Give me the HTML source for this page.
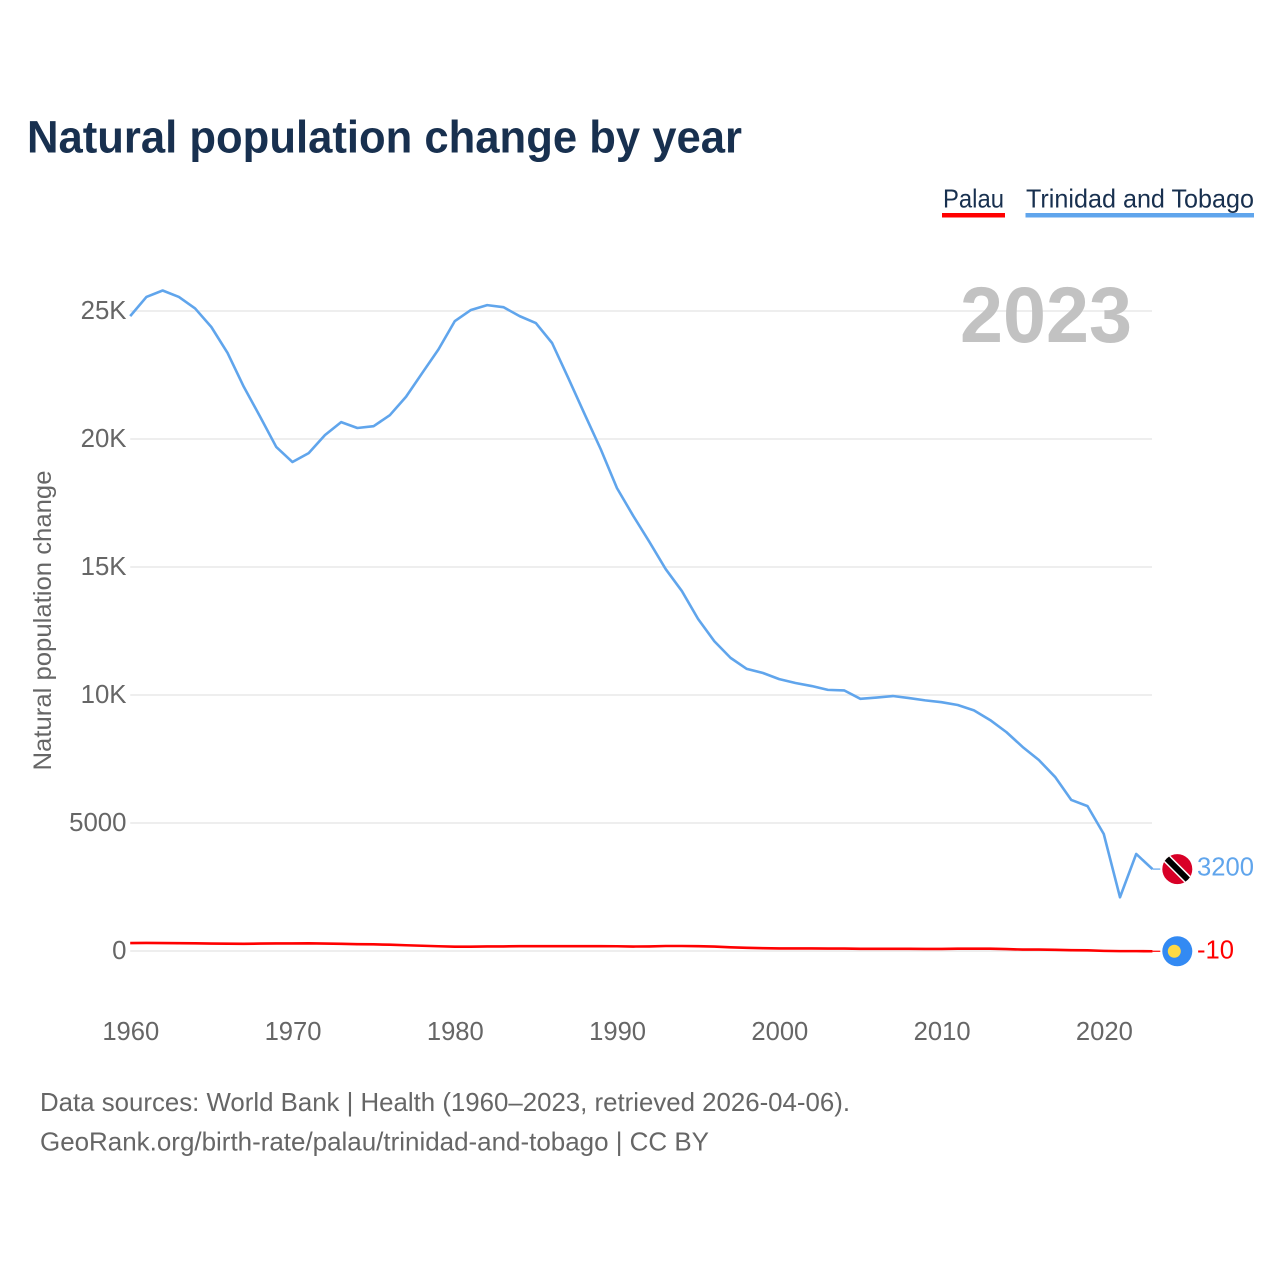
<!DOCTYPE html>
<html lang="en">
<head>
<meta charset="utf-8">
<title>Natural population change by year</title>
<style>
html,body{margin:0;padding:0;background:#fff;}
svg{display:block;font-family:"Liberation Sans",sans-serif;}
</style>
</head>
<body>
<svg id="chart" xmlns="http://www.w3.org/2000/svg" width="1280" height="1280" viewBox="0 0 1280 1280">
  <rect x="0" y="0" width="1280" height="1280" fill="#ffffff"/>
  <text x="27" y="152.5" font-size="45" font-weight="700" fill="#18304f" textLength="715" lengthAdjust="spacingAndGlyphs">Natural population change by year</text>
  <g>
    <g>
      <text x="943" y="207.5" font-size="26" fill="#18304f" textLength="61" lengthAdjust="spacingAndGlyphs">Palau</text>
      <rect x="942" y="213" width="63" height="4.5" fill="#ff0000"/>
    </g>
    <g>
      <text x="1026" y="207.5" font-size="26" fill="#18304f" textLength="228" lengthAdjust="spacingAndGlyphs">Trinidad and Tobago</text>
      <rect x="1025.5" y="213" width="228.5" height="4.5" fill="#60a5ec"/>
    </g>
  </g>
  <text transform="translate(51,620.5) rotate(-90)" text-anchor="middle" font-size="25" fill="#666666" textLength="300" lengthAdjust="spacingAndGlyphs">Natural population change</text>
  <g id="grid"></g>
  <g id="yticks"></g>
  <g id="xticks"></g>
  <text id="year" x="1132" y="342" text-anchor="end" font-size="79" font-weight="700" fill="#c2c2c2" textLength="172" lengthAdjust="spacingAndGlyphs">2023</text>
  <g id="series"></g>
  <g id="flags"></g>
  <text x="40" y="1111" font-size="26" fill="#666666" textLength="810" lengthAdjust="spacingAndGlyphs">Data sources: World Bank | Health (1960–2023, retrieved 2026-04-06).</text>
  <text x="40" y="1150.5" font-size="26" fill="#666666" textLength="669" lengthAdjust="spacingAndGlyphs">GeoRank.org/birth-rate/palau/trinidad-and-tobago | CC BY</text>
</svg>
<script>
const years = [1960,1961,1962,1963,1964,1965,1966,1967,1968,1969,1970,1971,1972,1973,1974,1975,1976,1977,1978,1979,1980,1981,1982,1983,1984,1985,1986,1987,1988,1989,1990,1991,1992,1993,1994,1995,1996,1997,1998,1999,2000,2001,2002,2003,2004,2005,2006,2007,2008,2009,2010,2011,2012,2013,2014,2015,2016,2017,2018,2019,2020,2021,2022,2023];
const trinidadValues = [24800,25550,25800,25550,25100,24375,23360,22040,20880,19690,19100,19450,20150,20660,20430,20500,20930,21650,22580,23500,24600,25040,25230,25150,24800,24530,23750,22380,20980,19600,18080,17000,15980,14920,14060,12970,12100,11450,11020,10860,10620,10470,10350,10200,10180,9850,9900,9960,9880,9790,9720,9610,9400,9020,8550,7970,7460,6800,5900,5660,4570,2100,3790,3200];
const palauValues = [310,315,310,305,300,290,285,280,290,295,295,300,290,280,265,260,245,225,205,185,170,170,180,180,190,190,190,190,190,190,185,175,180,195,195,190,175,145,125,110,100,100,100,95,95,85,85,85,85,80,80,90,90,90,75,55,55,45,30,25,5,-5,-5,-10];
const yTickValues = [0,5000,10000,15000,20000,25000];
const yTickLabels = ["0","5000","10K","15K","20K","25K"];
const xTickValues = [1960,1970,1980,1990,2000,2010,2020];

const NS = "http://www.w3.org/2000/svg";
const X0 = 130.2, X_PER_YEAR = 16.226, Y0 = 951, Y_PER_UNIT = 0.0256;
const PLOT_RIGHT = 1152;
function xScale(year){ return X0 + (year - years[0]) * X_PER_YEAR; }
function yScale(v){ return Y0 - v * Y_PER_UNIT; }
function make(tag, parent, attrs){
  const el = document.createElementNS(NS, tag);
  for (const k in attrs) el.setAttribute(k, attrs[k]);
  parent.appendChild(el);
  return el;
}
const grid = document.getElementById("grid");
const yticks = document.getElementById("yticks");
const xticks = document.getElementById("xticks");
const series = document.getElementById("series");
const flags = document.getElementById("flags");

yTickValues.forEach(function(v, i){
  const line = make("line", grid, {x1:X0, x2:PLOT_RIGHT, y1:yScale(v), y2:yScale(v), stroke:"#e9e9e9", "stroke-width":1.5});
  
  
  const label = make("text", yticks, {x:126.5, y:yScale(v)+8, "text-anchor":"end", "font-size":25.8, fill:"#666666"});
  
  
  label.textContent = yTickLabels[i];
});

xTickValues.forEach(function(t){
  const label = make("text", xticks, {x:xScale(t)+0.6, y:1040, "text-anchor":"middle", "font-size":25.6, fill:"#666666"});
  
  
  label.textContent = t;
});

function pathFor(values){
  return values.map(function(v, i){ return (i ? "L" : "M") + xScale(years[i]).toFixed(2) + " " + yScale(v).toFixed(2); }).join(" ");
}
const lastYear = years[years.length - 1];
const lastX = xScale(lastYear);
const flagX = 1177.3;

const palauLast = palauValues[palauValues.length - 1];
const trinidadLast = trinidadValues[trinidadValues.length - 1];

const palauLine = make("path", series, {d:pathFor(palauValues), fill:"none", stroke:"#ff0000", "stroke-width":2.6, "stroke-linejoin":"round"});


const trinidadLine = make("path", series, {d:pathFor(trinidadValues), fill:"none", stroke:"#60a5ec", "stroke-width":2.6, "stroke-linejoin":"round"});



const palauConnector = make("line", flags, {x1:lastX, x2:flagX-17, y1:yScale(palauLast), y2:yScale(palauLast), stroke:"#ff0000", "stroke-width":1.2});


const trinidadConnector = make("line", flags, {x1:lastX, x2:flagX-17, y1:yScale(trinidadLast), y2:yScale(trinidadLast), stroke:"#60a5ec", "stroke-width":1.2});



// Trinidad and Tobago flag marker
const ttY = yScale(trinidadLast);
const ttGroup = make("g", flags, {transform:"translate(" + flagX + "," + ttY + ")"});


const ttClip = make("clipPath", ttGroup, {id:"tt-clip"});


const ttClipCircle = make("circle", ttClip, {cx:0, cy:0, r:15});


const ttBg = make("circle", ttGroup, {cx:0, cy:0, r:15, fill:"#d80027"});


const ttWhite = make("line", ttGroup, {x1:-13, y1:-13, x2:13, y2:13, stroke:"#ffffff", "stroke-width":9, "clip-path":"url(#tt-clip)"});


const ttBlack = make("line", ttGroup, {x1:-13, y1:-13, x2:13, y2:13, stroke:"#000000", "stroke-width":6, "clip-path":"url(#tt-clip)"});



// Palau flag marker
const pwY = yScale(palauLast);
const pwGroup = make("g", flags, {transform:"translate(" + flagX + "," + pwY + ")"});


const pwBg = make("circle", pwGroup, {cx:0, cy:0, r:15, fill:"#338af3"});


const pwMoon = make("circle", pwGroup, {cx:-3, cy:0, r:6.5, fill:"#ffda44"});



const ttLabel = make("text", flags, {x:1197, y:ttY+6.5, "font-size":25.6, fill:"#60a5ec"});


ttLabel.textContent = trinidadLast;
const pwLabel = make("text", flags, {x:1197, y:pwY+7, "font-size":25.6, fill:"#ff0000"});


pwLabel.textContent = palauLast;
</script>
</body>
</html>
